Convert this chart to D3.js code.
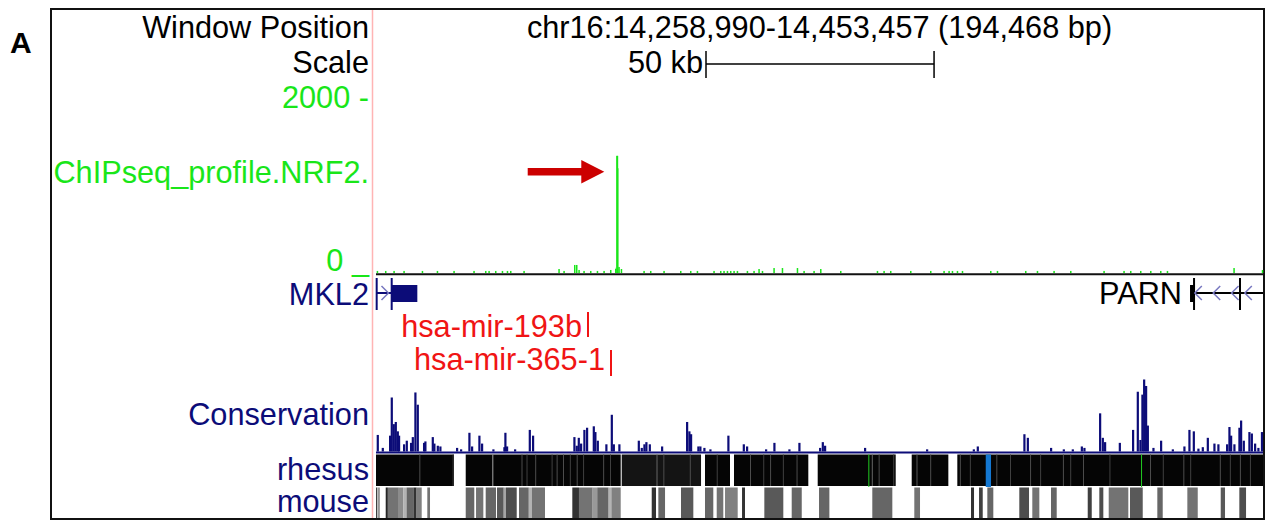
<!DOCTYPE html>
<html><head><meta charset="utf-8">
<script src="https://cdn.jsdelivr.net/npm/d3@7"></script>
<style>html,body{margin:0;padding:0;background:#fff;}svg{display:block;}</style>
</head><body>
<svg id="chart" width="1279" height="522"></svg>
<script>
// ---------------- DATA ----------------
const region = "chr16:14,258,990-14,453,457 (194,468 bp)";
const regionKb = [0, 194.468];
const scaleBarStartKb = 72.35;
const scaleBarKb = 50;
const scaleBarLabel = "50 kb";

const trackLabels = ["Window Position", "Scale", "2000 -", "ChIPseq_profile.NRF2.", "0 _", "Conservation", "rhesus", "mouse"];
const chipDomain = [0, 2000];

// ChIP-seq signal (kb offset, value)
const chipPos = [0.15,1.97,3.80,5.99,10.02,13.31,16.95,21.33,23.90,24.63,26.09,27.56,28.66,29.38,32.30,39.97,41.07,43.41,43.85,44.36,45.45,46.92,48.39,49.84,51.30,52.40,52.66,52.77,53.12,53.65,58.61,60.07,62.99,66.65,68.84,70.31,73.95,75.42,76.14,76.89,77.61,78.34,79.08,81.27,82.72,83.82,84.57,87.11,88.95,92.24,93.69,95.88,97.35,101.73,109.78,111.23,112.69,117.08,121.46,124.38,125.48,126.22,127.32,128.42,134.62,136.09,142.29,144.86,148.50,152.16,159.46,163.84,165.31,167.50,169.70,171.89,173.36,187.96,194.2];
const chipVal = [12,12,12,12,12,12,12,12,12,12,12,12,12,12,12,34,12,80,80,23,12,12,12,12,23,34,1320,1320,57,34,12,12,12,12,12,12,12,12,12,12,12,12,12,12,12,34,12,45,45,45,12,12,34,12,12,12,12,12,12,12,12,12,12,12,12,12,12,12,12,12,12,12,12,12,12,12,12,45,23];
const chipHaloPos = [52.44, 52.99, 53.10];
const chipHaloVal = [60, 1190, 40];
const arrowTip = [50.05, 1150];
const arrowTailKb = 33.26;

// genes
const geneNames = ["MKL2", "PARN"];
const geneLineStart = [0.15, 179.56];
const geneLineEnd = [3.44, 194.468];
const geneBlockStart = [3.44, 178.47];
const geneBlockEnd = [9.06, 179.56];
const geneTicks = [[0.15, 3.44], [179.35, 189.43]];
const geneChevrons = [[1.97], [180.29, 184.32, 188.34, 191.25]];
const geneStrand = ["+", "-"];

// microRNAs
const mirNames = ["hsa-mir-193b", "hsa-mir-365-1"];
const mirPos = [46.48, 51.52];

// conservation (kb offset, score 0..1)
const consPos = [0.15,1.25,2.85,3.22,3.66,4.10,4.54,4.82,5.92,6.51,7.45,7.83,8.40,8.92,10.30,10.59,12.21,12.56,13.31,13.88,17.54,18.42,20.24,20.83,22.43,23.02,25.50,27.91,28.13,28.50,30.26,33.48,34.20,43.26,43.78,44.22,44.73,45.45,46.04,47.51,47.86,48.39,50.27,51.46,51.90,53.12,57.38,58.03,58.61,59.04,59.79,62.49,67.97,68.47,68.84,70.44,70.88,71.76,73.08,77.02,80.40,81.12,85.29,87.11,90.40,92.59,97.13,97.72,98.22,106.99,120.59,130.83,131.70,141.92,142.67,147.77,150.56,152.53,154.51,155.08,158.52,159.11,159.61,162.84,165.75,166.78,167.35,167.79,168.17,168.60,168.98,170.21,171.89,174.46,177.00,178.10,179.06,180.07,181.03,182.13,183.58,184.45,186.36,186.87,187.24,187.96,189.06,189.43,190.02,191.25,191.78,192.50,193.22,194.00];
const consVal = [0.23,0.05,0.22,0.75,0.38,0.41,0.28,0.22,0.10,0.15,0.12,0.20,0.82,0.65,0.12,0.14,0.20,0.11,0.08,0.07,0.05,0.03,0.26,0.07,0.22,0.11,0.03,0.06,0.26,0.07,0.03,0.30,0.22,0.20,0.08,0.19,0.11,0.30,0.33,0.35,0.27,0.15,0.10,0.51,0.10,0.10,0.15,0.05,0.10,0.13,0.10,0.07,0.41,0.28,0.24,0.07,0.07,0.05,0.03,0.22,0.10,0.07,0.03,0.12,0.03,0.12,0.05,0.13,0.08,0.05,0.03,0.03,0.07,0.24,0.19,0.05,0.03,0.03,0.07,0.05,0.53,0.19,0.13,0.12,0.30,0.83,0.16,0.79,1.00,0.91,0.36,0.05,0.15,0.03,0.07,0.30,0.28,0.04,0.06,0.19,0.11,0.10,0.10,0.34,0.22,0.10,0.33,0.43,0.15,0.27,0.25,0.11,0.05,0.27];

// rhesus alignment blocks
const rhesusStart = [0, 19.67, 53.87, 72.13, 78.49, 96.84, 117.45, 127.45];
const rhesusEnd = [17.10, 53.65, 71.26, 77.61, 94.78, 113.94, 125.48, 194.468];
const rhesusScore = [0.98, 0.98, 0.92, 0.98, 0.98, 0.98, 0.98, 0.98];
const rhesusStripePos = [9.5,16.8,25.5,31.9,33.0,34.9,38.5,39.6,41.0,42.5,44.0,45.4,49.8,51.3,61.5,63.0,68.8,74.7,82.0,84.9,86.4,89.2,92.2,108.7,110.2,113.4,118.5,121.5,128.0,130.2,136.0,139.0,143.4,145.6,150.6,152.2,155.0,160.8,169.7,172.5,177.0,178.5,185.0,187.2,189.4,191.6];
const rhesusStripeScore = [0.7,0.75,0.35,0.7,0.75,0.7,0.75,0.7,0.7,0.75,0.7,0.75,0.7,0.75,0.6,0.7,0.7,0.75,0.7,0.75,0.7,0.75,0.7,0.6,0.7,0.75,0.65,0.7,0.7,0.75,0.7,0.75,0.7,0.75,0.7,0.75,0.7,0.75,0.7,0.75,0.7,0.75,0.7,0.75,0.7,0.75];
const rhesusGreen = [107.94, 167.73];
const rhesusBlueStart = [133.68];
const rhesusBlueEnd = [134.84];

// mouse alignment blocks
const mouseStart = [0.0,0.3,0.55,2.13,2.6,5.0,6.0,6.7,8.2,8.9,11.25,19.67,21.93,24.05,26.53,28.0,28.5,31.35,33.5,34.2,43.04,44.5,47.5,48.5,51.0,51.6,60.45,61.90,66.87,72.13,74.70,76.52,80.25,85.14,91.14,97.13,108.81,118.02,130.45,132.21,134.03,141.04,143.89,147.99,156.04,158.58,160.64,165.31,171.30,177.88,185.20,189.28];
const mouseEnd = [0.3,0.55,0.72,2.6,5.0,6.0,6.7,8.2,8.9,10.02,11.84,21.55,23.53,26.31,28.0,28.5,30.85,33.5,34.2,37.05,44.5,47.5,48.5,51.0,51.6,53.65,61.39,63.37,69.57,73.95,76.14,79.30,80.90,89.30,93.34,99.40,113.20,119.27,131.11,133.02,135.34,143.17,145.43,149.24,156.92,159.46,164.94,168.10,172.48,180.16,186.14,190.75];
const mouseScore = [0.75,0.25,0.7,0.85,0.55,0.45,0.3,0.6,0.8,0.5,0.55,0.6,0.55,0.6,0.65,0.35,0.7,0.6,0.3,0.55,0.8,0.55,0.4,0.6,0.3,0.5,0.8,0.6,0.65,0.6,0.55,0.5,0.8,0.65,0.6,0.6,0.6,0.55,0.8,0.75,0.6,0.7,0.55,0.6,0.75,0.7,0.55,0.65,0.6,0.55,0.65,0.7];

// ---------------- DRAW ----------------
const svg = d3.select("#chart");
const FONT = "'Liberation Sans', Arial, Helvetica, sans-serif";
const FS = 30.7;
const GREEN = "#19e619", NAVY = "#0c0c78", RED = "#f01414", CHEV = "#7878c0";

const x = d3.scaleLinear().domain(regionKb).range([376, 1263]);
const w = kb => x(kb) - x(0);
const yChip = d3.scaleLinear().domain(chipDomain).range([273, 97]);
const yCons = d3.scaleLinear().domain([0, 1]).range([451.5, 379.5]);
const grey = d3.scaleLinear().domain([0, 1]).range(["#ffffff", "#000000"]);

function text(tx, ty, str, color, anchor, opts = {}) {
  return svg.append("text").attr("x", tx).attr("y", ty).text(str)
    .attr("fill", color).attr("text-anchor", anchor)
    .attr("font-family", FONT).attr("font-size", opts.size || FS)
    .attr("font-weight", opts.weight || "normal");
}

// frame
svg.append("rect").attr("x", 51).attr("y", 9).attr("width", 1213).attr("height", 510)
  .attr("fill", "none").attr("stroke", "#111").attr("stroke-width", 2);
text(10, 53, "A", "#000", "start", { size: 30, weight: "bold" });

// left labels
const LX = 369;
text(LX, 38, trackLabels[0], "#000", "end");
text(LX, 73, trackLabels[1], "#000", "end");
text(LX, 108, trackLabels[2], GREEN, "end");
text(LX, 183, trackLabels[3], GREEN, "end");
text(LX, 271, trackLabels[4], GREEN, "end");
text(LX, 305, geneNames[0], NAVY, "end");
text(LX, 425, trackLabels[5], NAVY, "end");
text(LX, 480, trackLabels[6], NAVY, "end");
text(LX, 512, trackLabels[7], NAVY, "end");

// header
text((x(regionKb[0]) + x(regionKb[1])) / 2, 38, region, "#000", "middle");
const sb0 = x(scaleBarStartKb), sb1 = x(scaleBarStartKb + scaleBarKb);
text(sb0 - 3, 73, scaleBarLabel, "#000", "end");
svg.append("line").attr("x1", sb0).attr("x2", sb1).attr("y1", 64).attr("y2", 64).attr("stroke", "#000").attr("stroke-width", 1.5);
[sb0, sb1].forEach(v => svg.append("line").attr("x1", v).attr("x2", v).attr("y1", 51).attr("y2", 78).attr("stroke", "#000").attr("stroke-width", 1.5));

// ChIP track
svg.append("g").selectAll("rect").data(chipHaloPos.map((p, i) => [p, chipHaloVal[i]])).join("rect")
  .attr("x", d => x(d[0])).attr("width", 1.3)
  .attr("y", d => yChip(d[1])).attr("height", d => yChip(0) - yChip(d[1]))
  .attr("fill", "#96f096");
svg.append("g").selectAll("rect").data(chipPos.map((p, i) => [p, chipVal[i]])).join("rect")
  .attr("x", d => x(d[0])).attr("width", 1.5)
  .attr("y", d => yChip(d[1]) - 1).attr("height", d => yChip(0) - yChip(d[1]) + 1)
  .attr("fill", GREEN);
svg.append("line").attr("x1", x(0)).attr("x2", x(regionKb[1])).attr("y1", 274.3).attr("y2", 274.3)
  .attr("stroke", "#111").attr("stroke-width", 2);

// arrow
const ax = x(arrowTip[0]), ay = yChip(arrowTip[1]), atail = x(arrowTailKb);
svg.append("path")
  .attr("d", `M${atail},${ay - 3.7} L${ax - 23},${ay - 3.7} L${ax - 23},${ay - 11.7} L${ax},${ay} L${ax - 23},${ay + 11.7} L${ax - 23},${ay + 3.7} L${atail},${ay + 3.7} Z`)
  .attr("fill", "#cc0000");

// genes
geneNames.forEach((g, i) => {
  const col = i === 0 ? NAVY : "#000";
  svg.append("line").attr("x1", x(geneLineStart[i])).attr("x2", x(geneLineEnd[i])).attr("y1", 293).attr("y2", 293).attr("stroke", col).attr("stroke-width", 2);
  svg.append("rect").attr("x", x(geneBlockStart[i])).attr("width", Math.max(w(geneBlockEnd[i] - geneBlockStart[i]), 2))
    .attr("y", 285).attr("height", 17).attr("fill", col);
  geneTicks[i].forEach(t => svg.append("line").attr("x1", x(t)).attr("x2", x(t)).attr("y1", 278).attr("y2", 310).attr("stroke", col).attr("stroke-width", 2));
  geneChevrons[i].forEach(c => {
    const cx = x(c), d = geneStrand[i] === "+" ? 1 : -1;
    svg.append("path").attr("d", `M${cx - 3.5 * d},${286} L${cx + 3.5 * d},${293} L${cx - 3.5 * d},${300}`)
      .attr("fill", "none").attr("stroke", CHEV).attr("stroke-width", 1.5);
  });
});
text(x(geneBlockStart[1]) - 8, 304, geneNames[1], "#000", "end");

// microRNAs
const mirRows = [[312, 337], [350, 376]];
const mirBase = [337, 370];
mirNames.forEach((m, i) => {
  text(x(mirPos[i]) - 6, mirBase[i], m, RED, "end");
  svg.append("line").attr("x1", x(mirPos[i])).attr("x2", x(mirPos[i])).attr("y1", mirRows[i][0]).attr("y2", mirRows[i][1]).attr("stroke", RED).attr("stroke-width", 2);
});

// conservation
svg.append("g").selectAll("rect").data(consPos.map((p, i) => [p, consVal[i]])).join("rect")
  .attr("x", d => x(d[0])).attr("width", 2.2)
  .attr("y", d => yCons(d[1])).attr("height", d => yCons(0) - yCons(d[1]))
  .attr("fill", NAVY);
svg.append("line").attr("x1", x(0)).attr("x2", x(regionKb[1])).attr("y1", 452.5).attr("y2", 452.5)
  .attr("stroke", NAVY).attr("stroke-width", 2);

// rhesus
const RY0 = 454.5, RY1 = 486;
svg.append("g").selectAll("rect").data(rhesusStart.map((s, i) => [s, rhesusEnd[i], rhesusScore[i]])).join("rect")
  .attr("x", d => x(d[0])).attr("width", d => w(d[1] - d[0]))
  .attr("y", RY0).attr("height", RY1 - RY0).attr("fill", d => grey(d[2]));
svg.append("g").selectAll("rect").data(rhesusStripePos.map((p, i) => [p, rhesusStripeScore[i]])).join("rect")
  .attr("x", d => x(d[0])).attr("width", 1)
  .attr("y", RY0).attr("height", RY1 - RY0).attr("fill", d => grey(d[1]));
svg.append("g").selectAll("rect").data(rhesusBlueStart.map((s, i) => [s, rhesusBlueEnd[i]])).join("rect")
  .attr("x", d => x(d[0])).attr("width", d => w(d[1] - d[0]))
  .attr("y", RY0).attr("height", RY1 - RY0 + 1).attr("fill", "#1478d2");
svg.append("g").selectAll("rect").data(rhesusGreen).join("rect")
  .attr("x", d => x(d)).attr("width", 1)
  .attr("y", RY0).attr("height", RY1 - RY0 + 1).attr("fill", "#22cc22");

// mouse
const MY0 = 487.5, MY1 = 518;
svg.append("g").selectAll("rect").data(mouseStart.map((s, i) => [s, mouseEnd[i], mouseScore[i]])).join("rect")
  .attr("x", d => x(d[0])).attr("width", d => Math.max(w(d[1] - d[0]), 1))
  .attr("y", MY0).attr("height", MY1 - MY0).attr("fill", d => grey(d[2]));

// pink guide line
svg.append("line").attr("x1", 372.5).attr("x2", 372.5).attr("y1", 10).attr("y2", 518)
  .attr("stroke", "#ffb4b4").attr("stroke-width", 1.5);
</script>
</body></html>
